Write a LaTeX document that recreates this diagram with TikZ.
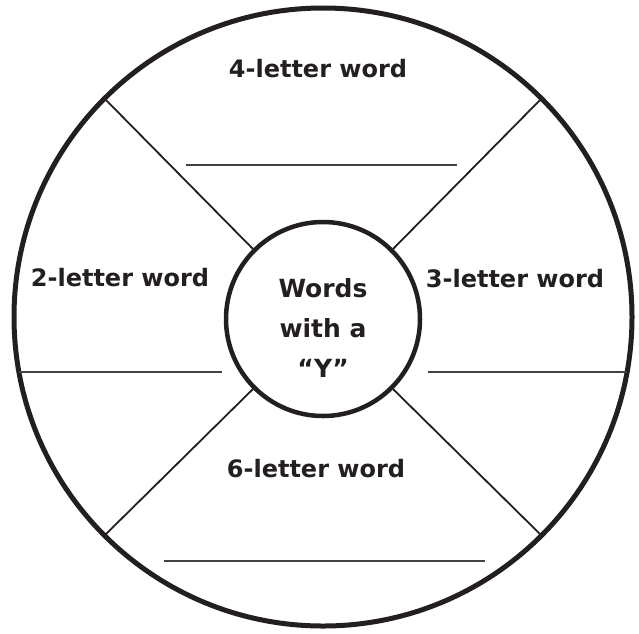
\documentclass[tikz,border=0pt]{standalone}
\usepackage{fontspec}
\setmainfont{DejaVu Sans}
\usepackage{xcolor}
\usetikzlibrary{positioning}
\definecolor{ink}{HTML}{231F20}

\begin{document}
\begin{tikzpicture}[
    x=1pt, y=-1pt,
    rim/.style={circle, draw=ink, line width=5pt, minimum size=618pt, inner sep=0pt, outer sep=0pt},
    hub/.style={circle, draw=ink, line width=4.5pt, minimum size=194pt, inner sep=0pt},
    spoke/.style={draw=ink, line width=1.8pt},
    blank/.style={draw=ink!85, line width=1.3pt},
    label/.style={font=\bfseries\fontsize{24}{28}\selectfont, text=ink, anchor=base},
    title/.style={font=\bfseries\fontsize{25}{40}\selectfont, text=ink, align=center}
]
\useasboundingbox (0,0) rectangle (639,633);

% Circles
\node[rim] (rim) at (323,317) {};
\node[hub] (hub) at (323,319) {};
\node[title] (topic) at (323,328) {Words\\with a\\``Y''};

% Spokes
\draw[spoke] (hub.45) -- (rim.45);
\draw[spoke] (hub.135) -- (rim.135);
\draw[spoke] (hub.225) -- (rim.225);
\draw[spoke] (hub.315) -- (rim.315);

% Sections
\node[label] (four) at (318,77) {4-letter word};
\node[label] (two) at (120,286) {2-letter word};
\node[label] (three) at (515,287) {3-letter word};
\node[label] (six) at (316,477) {6-letter word};

% Writing lines
\coordinate (t1) at (186,165);
\coordinate (t2) at (457,165);
\coordinate (b1) at (164,561);
\coordinate (b2) at (485,561);
\coordinate (l1) at (19,372);
\coordinate (l2) at (222,372);
\coordinate (r1) at (428,372);
\coordinate (r2) at (627,372);
\draw[blank] (t1) -- (t2);
\draw[blank] (b1) -- (b2);
\draw[blank] (l1) -- (l2);
\draw[blank] (r1) -- (r2);

\end{tikzpicture}
\end{document}
